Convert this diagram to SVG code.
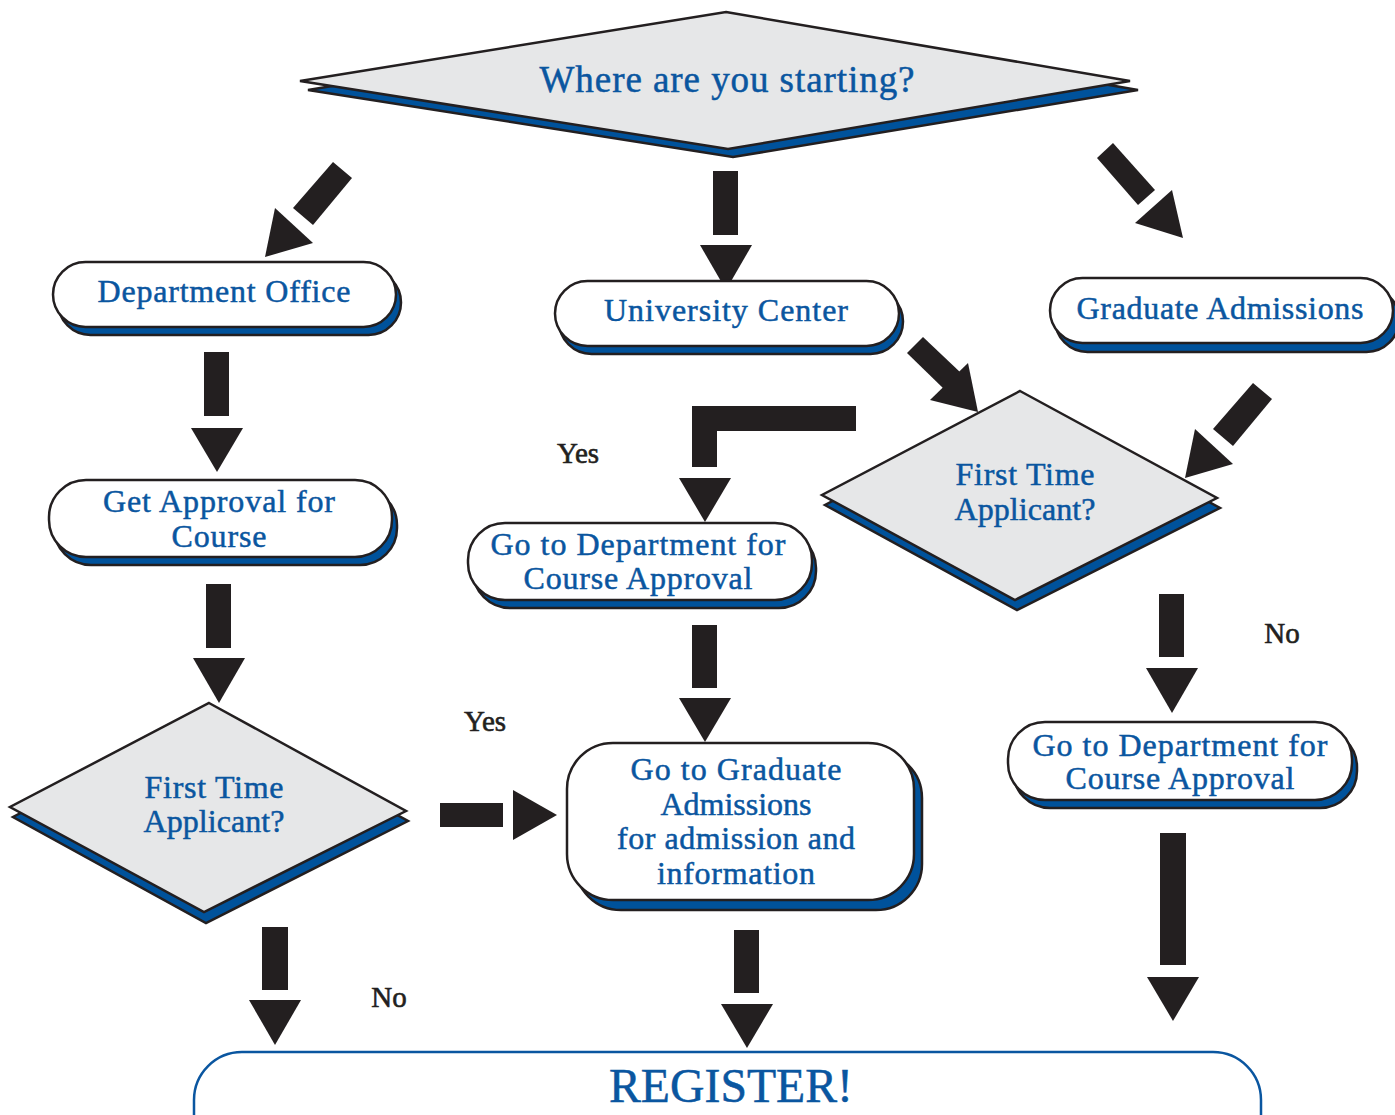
<svg xmlns="http://www.w3.org/2000/svg" width="1395" height="1115" viewBox="0 0 1395 1115">
<style>
.sh{fill:#00529b;stroke:#231f20;stroke-width:2.5}
.box{fill:#ffffff;stroke:#231f20;stroke-width:2.5}
.dia{fill:#e6e7e8;stroke:#231f20;stroke-width:2.5}
.t{font-family:"Liberation Serif","Times New Roman",serif;fill:#0a56a0;stroke:#0a56a0;stroke-width:0.5;text-anchor:middle}
.lbl{font-family:"Liberation Serif","Times New Roman",serif;fill:#231f20;stroke:#231f20;stroke-width:0.6;font-size:29px;text-anchor:middle}
.arr{fill:#231f20}
</style>
<rect width="1395" height="1115" fill="#ffffff"/>

<g id="connectors">
  <path class="arr" d="M333,162 L352,178 L313,225 L293,208 Z"/>
  <path class="arr" d="M275,208 L313,243 L265,257 Z"/>
  <rect class="arr" x="713" y="171" width="25" height="64"/>
  <path class="arr" d="M700,245 L752,245 L726,290 Z"/>
  <path class="arr" d="M1097,158 L1113,143 L1155,190 L1138,205 Z"/>
  <path class="arr" d="M1172,190 L1135,223 L1183,238 Z"/>
  <rect class="arr" x="204" y="352" width="25" height="64"/>
  <path class="arr" d="M191,428 L243,428 L217,472 Z"/>
  <rect class="arr" x="206" y="584" width="25" height="64"/>
  <path class="arr" d="M193,658 L245,658 L219,703 Z"/>
  <rect class="arr" x="262" y="927" width="26" height="63"/>
  <path class="arr" d="M249,1000 L301,1000 L275,1045 Z"/>
  <rect class="arr" x="440" y="803" width="63" height="24"/>
  <path class="arr" d="M513,790 L513,840 L557,815 Z"/>
  <rect class="arr" x="692" y="625" width="25" height="63"/>
  <path class="arr" d="M679,698 L731,698 L705,742 Z"/>
  <rect class="arr" x="734" y="930" width="25" height="63"/>
  <path class="arr" d="M721,1004 L773,1004 L747,1048 Z"/>
  <path class="arr" d="M856,406 L856,431 L717,431 L717,467 L692,467 L692,406 Z"/>
  <path class="arr" d="M679,478 L731,478 L705,522 Z"/>
  <path class="arr" d="M907,353 L923,337 L961,373 L945,390 Z"/>
  <path class="arr" d="M968,363 L930,400 L978,412 Z"/>
  <path class="arr" d="M1253,383 L1272,399 L1233,446 L1213,429 Z"/>
  <path class="arr" d="M1195,429 L1233,464 L1185,478 Z"/>
  <rect class="arr" x="1159" y="594" width="25" height="63"/>
  <path class="arr" d="M1146,668 L1198,668 L1172,713 Z"/>
  <rect class="arr" x="1160" y="833" width="26" height="132"/>
  <path class="arr" d="M1147,977 L1199,977 L1173,1021 Z"/>
</g>

<g id="labels">
  <text class="lbl" x="578" y="463">Yes</text>
  <text class="lbl" x="485" y="731">Yes</text>
  <text class="lbl" x="1282" y="643" font-size="32">No</text>
  <text class="lbl" x="389" y="1007" font-size="32">No</text>
</g>

<g id="start">
  <path class="sh" d="M734,20 L1138,90 L733,157 L308,90 Z"/>
  <path class="dia" d="M726,12 L1130,81 L728,149 L300,81 Z"/>
  <text class="t" x="727" y="92" font-size="37" textLength="375">Where are you starting?</text>
</g>

<g id="dept-office">
  <rect class="sh" x="58" y="270" width="343" height="65" rx="32.5"/>
  <rect class="box" x="53" y="262" width="343" height="65" rx="32.5"/>
  <text class="t" x="224" y="302" font-size="32" textLength="253">Department Office</text>
</g>

<g id="university-center">
  <rect class="sh" x="559" y="289" width="344" height="65" rx="32.5"/>
  <rect class="box" x="555" y="281" width="344" height="65" rx="32.5"/>
  <text class="t" x="726" y="321" font-size="32" textLength="244">University Center</text>
</g>

<g id="graduate-admissions">
  <rect class="sh" x="1055" y="287" width="344" height="65" rx="32.5"/>
  <rect class="box" x="1050" y="278" width="343" height="65" rx="32.5"/>
  <text class="t" x="1220" y="319" font-size="32" textLength="287">Graduate Admissions</text>
</g>

<g id="get-approval">
  <rect class="sh" x="54" y="488" width="343" height="77" rx="37"/>
  <rect class="box" x="49" y="480" width="343" height="77" rx="37"/>
  <text class="t" x="219" y="512" font-size="32" textLength="232">Get Approval for</text>
  <text class="t" x="219" y="547" font-size="32" textLength="95">Course</text>
</g>

<g id="mid-go-dept">
  <rect class="sh" x="473" y="531" width="343" height="77" rx="37"/>
  <rect class="box" x="468" y="523" width="344" height="77" rx="37"/>
  <text class="t" x="638" y="555" font-size="32" textLength="295">Go to Department for</text>
  <text class="t" x="638" y="589" font-size="32" textLength="229">Course Approval</text>
</g>

<g id="right-first-time">
  <path class="sh" d="M1023,401 L1220,508 L1017,610 L825,505 Z"/>
  <path class="dia" d="M1020,391 L1217,498 L1015,600 L822,495 Z"/>
  <text class="t" x="1025" y="485" font-size="32" textLength="139">First Time</text>
  <text class="t" x="1025" y="520" font-size="32" textLength="141">Applicant?</text>
</g>

<g id="left-first-time">
  <path class="sh" d="M212,713 L408,821 L206,923 L13,817 Z"/>
  <path class="dia" d="M209,703 L406,811 L204,912 L10,807 Z"/>
  <text class="t" x="214" y="798" font-size="32" textLength="139">First Time</text>
  <text class="t" x="214" y="832" font-size="32" textLength="141">Applicant?</text>
</g>

<g id="go-graduate">
  <rect class="sh" x="575" y="752" width="347" height="158" rx="46"/>
  <rect class="box" x="567" y="743" width="347" height="157" rx="46"/>
  <text class="t" x="736" y="780" font-size="32" textLength="211">Go to Graduate</text>
  <text class="t" x="736" y="815" font-size="32" textLength="151">Admissions</text>
  <text class="t" x="736" y="849" font-size="32" textLength="238">for admission and</text>
  <text class="t" x="736" y="884" font-size="32" textLength="158">information</text>
</g>

<g id="right-go-dept">
  <rect class="sh" x="1013" y="730" width="344" height="78" rx="37"/>
  <rect class="box" x="1008" y="722" width="344" height="78" rx="37"/>
  <text class="t" x="1180" y="756" font-size="32" textLength="295">Go to Department for</text>
  <text class="t" x="1180" y="789" font-size="32" textLength="229">Course Approval</text>
</g>

<g id="register">
  <rect x="194" y="1052" width="1067" height="130" rx="48" fill="#ffffff" stroke="#0a56a0" stroke-width="2.5"/>
  <text class="t" x="731" y="1102" font-size="48" stroke-width="1" textLength="244" lengthAdjust="spacingAndGlyphs">REGISTER!</text>
</g>
</svg>
